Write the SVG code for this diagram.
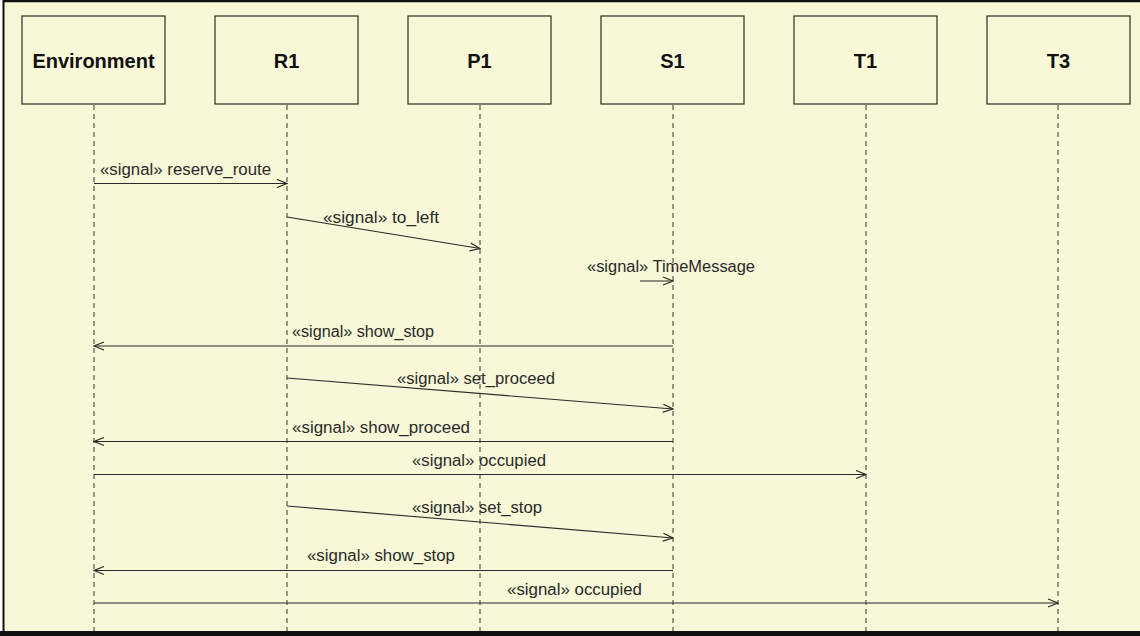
<svg xmlns="http://www.w3.org/2000/svg" width="1140" height="636" viewBox="0 0 1140 636">
<style>
.box{fill:#f8f7d7;stroke:#2a2a2a;stroke-width:1.2}
.name{font-family:"Liberation Sans",Arial,sans-serif;font-weight:bold;font-size:20px;fill:#111;text-anchor:middle}
.life{stroke:#555;stroke-width:1.2;stroke-dasharray:5,4;fill:none}
.msg{stroke:#2a2a2a;stroke-width:1.2;fill:none}
.lbl{font-family:"Liberation Sans",Arial,sans-serif;font-size:16px;fill:#2a2a2a}
</style>
<defs>
<marker id="arr" markerWidth="12" markerHeight="10" refX="11" refY="5" orient="auto" markerUnits="userSpaceOnUse">
<path d="M1,1 L11,5 L1,9" fill="none" stroke="#2a2a2a" stroke-width="1.2"/>
</marker>
</defs>
<rect x="0" y="0" width="1140" height="636" fill="#f8f7d7"/>
<rect x="0" y="0" width="3" height="636" fill="#ffffff"/>
<line x1="3" y1="1" x2="1140" y2="1" stroke="#111" stroke-width="2.5"/>
<line x1="3.5" y1="0" x2="3.5" y2="636" stroke="#111" stroke-width="2"/>
<rect x="0" y="631" width="1140" height="5" fill="#111"/>

<g id="lifelines">
<line class="life" x1="94" y1="105" x2="94" y2="631"/>
<line class="life" x1="287" y1="105" x2="287" y2="631"/>
<line class="life" x1="480" y1="105" x2="480" y2="631"/>
<line class="life" x1="673" y1="105" x2="673" y2="631"/>
<line class="life" x1="866" y1="105" x2="866" y2="631"/>
<line class="life" x1="1058" y1="105" x2="1058" y2="631"/>
</g>

<g id="Environment"><rect class="box" x="22" y="16" width="143" height="88"/><text class="name" x="93.5" y="68">Environment</text></g>
<g id="R1"><rect class="box" x="215" y="16" width="143" height="88"/><text class="name" x="286.5" y="68">R1</text></g>
<g id="P1"><rect class="box" x="408" y="16" width="143" height="88"/><text class="name" x="479.5" y="68">P1</text></g>
<g id="S1"><rect class="box" x="601" y="16" width="143" height="88"/><text class="name" x="672.5" y="68">S1</text></g>
<g id="T1"><rect class="box" x="794" y="16" width="143" height="88"/><text class="name" x="865.5" y="68">T1</text></g>
<g id="T3"><rect class="box" x="987" y="16" width="143" height="88"/><text class="name" x="1058.5" y="68">T3</text></g>

<g id="connectors">
<line class="msg" x1="94" y1="183.5" x2="287" y2="183.5" marker-end="url(#arr)"/>
<line class="msg" x1="287" y1="217" x2="480" y2="248.5" marker-end="url(#arr)"/>
<line class="msg" x1="640" y1="281" x2="673" y2="281" marker-end="url(#arr)"/>
<line class="msg" x1="673" y1="346" x2="94" y2="346" marker-end="url(#arr)"/>
<line class="msg" x1="287" y1="378" x2="673" y2="409" marker-end="url(#arr)"/>
<line class="msg" x1="673" y1="441.5" x2="94" y2="441.5" marker-end="url(#arr)"/>
<line class="msg" x1="94" y1="474.5" x2="866" y2="474.5" marker-end="url(#arr)"/>
<line class="msg" x1="287" y1="506" x2="673" y2="538" marker-end="url(#arr)"/>
<line class="msg" x1="673" y1="570.5" x2="94" y2="570.5" marker-end="url(#arr)"/>
<line class="msg" x1="94" y1="603" x2="1058" y2="603" marker-end="url(#arr)"/>
</g>

<g id="labels">
<text class="lbl" x="100" y="175" textLength="171" lengthAdjust="spacingAndGlyphs">«signal» reserve_route</text>
<text class="lbl" x="323" y="223" textLength="116" lengthAdjust="spacingAndGlyphs">«signal» to_left</text>
<text class="lbl" x="587" y="272" textLength="168" lengthAdjust="spacingAndGlyphs">«signal» TimeMessage</text>
<text class="lbl" x="292" y="337" textLength="142" lengthAdjust="spacingAndGlyphs">«signal» show_stop</text>
<text class="lbl" x="397" y="384" textLength="158" lengthAdjust="spacingAndGlyphs">«signal» set_proceed</text>
<text class="lbl" x="292" y="433" textLength="178" lengthAdjust="spacingAndGlyphs">«signal» show_proceed</text>
<text class="lbl" x="412" y="466" textLength="134" lengthAdjust="spacingAndGlyphs">«signal» occupied</text>
<text class="lbl" x="412" y="513" textLength="130" lengthAdjust="spacingAndGlyphs">«signal» set_stop</text>
<text class="lbl" x="307" y="561" textLength="148" lengthAdjust="spacingAndGlyphs">«signal» show_stop</text>
<text class="lbl" x="507" y="595" textLength="135" lengthAdjust="spacingAndGlyphs">«signal» occupied</text>
</g>
</svg>
